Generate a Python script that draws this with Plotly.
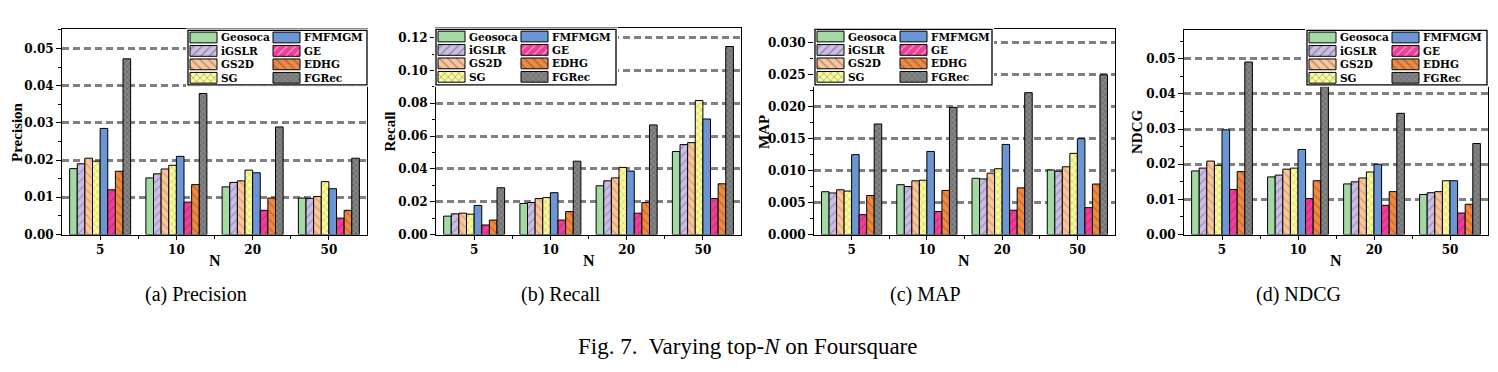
import plotly.graph_objects as go

# ---------------- data ----------------
categories = ["5", "10", "20", "50"]
methods = ["Geosoca", "iGSLR", "GS2D", "SG", "FMFMGM", "GE", "EDHG", "FGRec"]

# rows follow `methods`, columns follow `categories`
precision = [
    [0.0177, 0.0152, 0.0128, 0.0098],
    [0.0190, 0.0163, 0.0140, 0.0097],
    [0.0205, 0.0176, 0.0144, 0.0102],
    [0.0197, 0.0186, 0.0173, 0.0142],
    [0.0285, 0.0210, 0.0166, 0.0123],
    [0.0120, 0.0087, 0.0065, 0.0044],
    [0.0170, 0.0134, 0.0098, 0.0065],
    [0.0472, 0.0379, 0.0289, 0.0205],
]
recall = [
    [0.0112, 0.0189, 0.0297, 0.0506],
    [0.0126, 0.0195, 0.0327, 0.0548],
    [0.0130, 0.0219, 0.0345, 0.0560],
    [0.0124, 0.0225, 0.0409, 0.0817],
    [0.0177, 0.0255, 0.0387, 0.0704],
    [0.0058, 0.0088, 0.0130, 0.0219],
    [0.0088, 0.0140, 0.0195, 0.0309],
    [0.0285, 0.0447, 0.0668, 0.1146],
]
map_values = [
    [0.0067, 0.0078, 0.0088, 0.0101],
    [0.0065, 0.0075, 0.0087, 0.0099],
    [0.0070, 0.0084, 0.0096, 0.0106],
    [0.0068, 0.0085, 0.0103, 0.0127],
    [0.0125, 0.0130, 0.0141, 0.0150],
    [0.0031, 0.0036, 0.0038, 0.0042],
    [0.0061, 0.0069, 0.0073, 0.0079],
    [0.0173, 0.0199, 0.0222, 0.0250],
]
ndcg = [
    [0.0181, 0.0164, 0.0144, 0.0114],
    [0.0189, 0.0169, 0.0150, 0.0119],
    [0.0209, 0.0186, 0.0161, 0.0122],
    [0.0197, 0.0189, 0.0178, 0.0153],
    [0.0298, 0.0242, 0.0200, 0.0153],
    [0.0128, 0.0102, 0.0083, 0.0061],
    [0.0179, 0.0153, 0.0122, 0.0086],
    [0.0491, 0.0421, 0.0345, 0.0259],
]

metric_names = ["Precision", "Recall", "MAP", "NDCG"]
sub_captions = ["(a) Precision", "(b) Recall", "(c) MAP", "(d) NDCG"]
fig_caption = "Fig. 7.  Varying top-<i>N</i> on Foursquare"
x_title = "N"

# ---------------- styles ----------------
fill_colors = ["#a3d9a3", "#cbbde3", "#fbc59c", "#fafa9a",
               "#6b96d3", "#f23d98", "#ee8a42", "#858585"]
hatch = ["", "/", "\\", "x", "", "/", "\\", "x"]
hatch_colors = ["#000000", "#6f6290", "#b4713f", "#9a9a3c",
                "#000000", "#9c1f5c", "#8a461a", "#3a3a3a"]
hatch_size = [6, 6, 6, 5, 6, 6, 6, 4]
hatch_solidity = [0.2, 0.2, 0.2, 0.25, 0.2, 0.2, 0.22, 0.3]

W, H = 1498, 372
SERIF = "Liberation Serif, Times New Roman, serif"
WIDE = "DejaVu Serif, serif"

panels = [
    dict(x0=62, x1=367, top=30, bottom=239, ymax=0.0551, dtick=0.01, fmt=".2f",
         lg=(188, 31, 367, 86.5), ytx=17, capx=196),
    dict(x0=436, x1=741, top=29, bottom=239, ymax=0.1256, dtick=0.02, fmt=".2f",
         lg=(436, 30, 616, 86.5), ytx=390, capx=561),
    dict(x0=814, x1=1115, top=30, bottom=239, ymax=0.0321, dtick=0.005, fmt=".3f",
         lg=(815, 30, 992, 86.5), ytx=764, capx=925),
    dict(x0=1184, x1=1488, top=31, bottom=239, ymax=0.0581, dtick=0.01, fmt=".2f",
         lg=(1307, 31, 1487, 86.5), ytx=1137.5, capx=1298),
]
all_values = [precision, recall, map_values, ndcg]

x_pos = list(range(len(categories)))
minor_x = [p + 0.5 for p in x_pos[:-1]]

# legend geometry (pixels inside the legend box)
row_pitch, first_row, pad = 13.7, 7.2, 2.0
swatch_w = 27
col_left = [2, 85]
text_gap = 2
n_rows = 4

fig = go.Figure()
annotations = []
shapes = []
layout_axes = {}


def ax_names(k):
    s = "" if k == 1 else str(k)
    return "x" + s, "y" + s, "xaxis" + s, "yaxis" + s


for i, (p, vals) in enumerate(zip(panels, all_values)):
    k = i + 1
    xr, yr, xname, yname = ax_names(k)
    for j, m in enumerate(methods):
        fig.add_trace(go.Bar(
            x=x_pos, y=vals[j], name=m, xaxis=xr, yaxis=yr,
            marker=dict(color=fill_colors[j], line=dict(color="black", width=1),
                        pattern=dict(shape=hatch[j], fgcolor=hatch_colors[j],
                                     bgcolor=fill_colors[j], size=hatch_size[j],
                                     solidity=hatch_solidity[j], fillmode="overlay")),
            showlegend=False, hoverinfo="skip"))

    layout_axes[xname] = dict(
        domain=[p["x0"] / W, p["x1"] / W], anchor=yr, range=[-0.5, 3.5],
        tickmode="array", tickvals=x_pos, ticktext=categories,
        ticks="outside", ticklen=4, tickwidth=1, tickcolor="black",
        showline=True, linecolor="black", linewidth=1, mirror=True,
        showgrid=False, zeroline=False, fixedrange=True,
        tickfont=dict(family=WIDE, size=12, color="black", weight="bold"),
        minor=dict(tickvals=minor_x, ticks="outside", ticklen=3,
                   tickcolor="black", showgrid=False),
    )
    layout_axes[yname] = dict(
        domain=[1 - p["bottom"] / H, 1 - p["top"] / H], anchor=xr,
        range=[0, p["ymax"]], tickmode="linear", tick0=0, dtick=p["dtick"],
        tickformat=p["fmt"], ticks="outside", ticklen=5, tickwidth=1,
        tickcolor="black", showline=True, linecolor="black", linewidth=1,
        mirror=True, zeroline=False, fixedrange=True,
        showgrid=True, gridcolor="#808080", gridwidth=2.5, griddash="7px,4px",
        tickfont=dict(family=WIDE, size=12, color="black", weight="bold"),
        minor=dict(tick0=0, dtick=p["dtick"] / 2, ticks="outside", ticklen=3,
                   tickcolor="black", showgrid=False),
    )

    # ---- legend drawn in its own small axes ----
    lk = k + 4
    lxr, lyr, lxname, lyname = ax_names(lk)
    bx0, by0, bx1, by1 = p["lg"]
    bw, bh = bx1 - bx0, by1 - by0
    lg_rows = [j % n_rows for j in range(len(methods))]
    lg_base = [col_left[j // n_rows] for j in range(len(methods))]
    fig.add_trace(go.Bar(
        orientation="h", y=lg_rows, x=[swatch_w] * len(methods), base=lg_base,
        width=0.8, xaxis=lxr, yaxis=lyr,
        marker=dict(color=fill_colors, line=dict(color="black", width=1),
                    pattern=dict(shape=hatch, fgcolor=hatch_colors,
                                 bgcolor=fill_colors, size=hatch_size,
                                 solidity=hatch_solidity, fillmode="overlay")),
        showlegend=False, hoverinfo="skip"))
    ytop = -first_row / row_pitch
    ybot = (bh - first_row) / row_pitch
    layout_axes[lxname] = dict(
        domain=[(bx0 - pad) / W, (bx1 + pad) / W], anchor=lyr,
        range=[-pad, bw + pad], visible=False, fixedrange=True)
    layout_axes[lyname] = dict(
        domain=[1 - (by1 + pad) / H, 1 - (by0 - pad) / H], anchor=lxr,
        range=[ybot + pad / row_pitch, ytop - pad / row_pitch],
        visible=False, fixedrange=True)
    shapes.append(dict(type="rect", xref=lxr, yref=lyr, x0=0, x1=bw,
                       y0=ybot, y1=ytop, fillcolor="white",
                       line=dict(color="black", width=1.3), layer="below"))
    for j, m in enumerate(methods):
        annotations.append(dict(
            xref=lxr, yref=lyr, x=lg_base[j] + swatch_w + text_gap, y=lg_rows[j],
            text="<b>" + m + "</b>", showarrow=False, xanchor="left",
            yanchor="middle", font=dict(family=WIDE, size=10.5, color="black")))

    # ---- axis titles & captions ----
    cy = 1 - (p["top"] + p["bottom"]) / 2 / H
    annotations.append(dict(
        xref="paper", yref="paper", x=p["ytx"] / W, y=cy, textangle=-90,
        text="<b>" + metric_names[i] + "</b>", showarrow=False,
        xanchor="center", yanchor="middle",
        font=dict(family=SERIF, size=15, color="black")))
    annotations.append(dict(
        xref="paper", yref="paper", x=(p["x0"] + p["x1"]) / 2 / W, y=1 - 266 / H,
        text="<b>" + x_title + "</b>", showarrow=False,
        xanchor="center", yanchor="middle",
        font=dict(family=SERIF, size=16, color="black")))
    annotations.append(dict(
        xref="paper", yref="paper", x=p["capx"] / W, y=1 - 300 / H,
        text=sub_captions[i], showarrow=False, xanchor="center", yanchor="middle",
        font=dict(family=SERIF, size=20, color="black")))

annotations.append(dict(
    xref="paper", yref="paper", x=747 / W, y=1 - 353 / H, text=fig_caption,
    showarrow=False, xanchor="center", yanchor="middle",
    font=dict(family=SERIF, size=23, color="black")))

fig.update_layout(
    width=W, height=H, margin=dict(l=0, r=0, t=0, b=0, pad=0),
    paper_bgcolor="white", plot_bgcolor="white", showlegend=False,
    barmode="group", bargap=0.2, bargroupgap=0,
    annotations=annotations, shapes=shapes, **layout_axes)

fig.write_html("out.html", config={"displayModeBar": False},
               post_script="document.body.style.margin='0px';"
                           "document.body.style.overflow='hidden';")
